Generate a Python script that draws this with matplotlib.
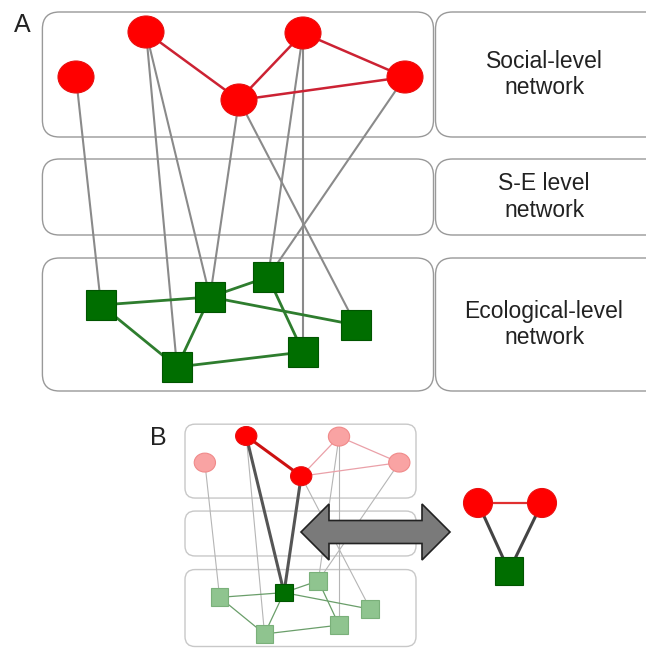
import matplotlib.pyplot as plt
from matplotlib.patches import Ellipse, Rectangle, FancyBboxPatch, Polygon

# Node positions (panel A pixel frame) and links
social_x = [76, 146, 239, 303, 405]
social_y = [77, 32, 100, 33, 77]
eco_x = [101, 210, 268, 356, 303, 177]
eco_y = [305, 297, 277, 325, 352, 367]
social_links = [(1, 2), (2, 3), (2, 4), (3, 4)]
eco_links = [(0, 1), (0, 5), (5, 1), (1, 2), (1, 3), (2, 4), (5, 4)]
cross_links = [(0, 0), (1, 5), (1, 1), (2, 1), (2, 3), (3, 2), (3, 4), (4, 2)]

# Motif highlighted in panel B
motif_social = [1, 2]
motif_eco = [1]

level_labels = ['Social-level\nnetwork', 'S-E level\nnetwork', 'Ecological-level\nnetwork']
level_top = [12, 159, 258]
level_bottom = [137, 235, 391]

# Isolated motif on the right of panel B
motif_x = [478, 542]
motif_y = [503, 503]
motif_sq = (509, 571)

colors = {'red': '#ff0000', 'red_edge': '#cc2233', 'green': '#006e00',
          'green_edge': '#2e7d2e', 'grey': '#8a8a8a', 'box': '#999999'}

fig = plt.figure(figsize=(6.46, 6.48), dpi=100)
ax = fig.add_axes([0, 0, 1, 1])
ax.set_xlim(0, 646)
ax.set_ylim(648, 0)
ax.set_aspect('equal')
ax.axis('off')


def box(x0, y0, x1, y1, r, ec, lw):
    ax.add_patch(FancyBboxPatch((x0, y0), x1 - x0, y1 - y0,
                                boxstyle='round,pad=0,rounding_size=%g' % r,
                                fc='white', ec=ec, lw=lw, zorder=1))


def red_node(x, y, w, h, fc, ec):
    ax.add_patch(Ellipse((x, y), w, h, fc=fc, ec=ec, lw=0.8, zorder=4))


def green_node(x, y, s, fc, ec):
    ax.add_patch(Rectangle((x - s / 2, y - s / 2), s, s, fc=fc, ec=ec, lw=0.8, zorder=4))


def draw_network(ox, oy, s, faded):
    # map panel A coordinates into the target frame
    def tx(x):
        return ox + (x - 42.4) * s

    def ty(y):
        return oy + (y - 11.7) * s

    sx = [tx(v) for v in social_x]
    sy = [ty(v) for v in social_y]
    ex = [tx(v) for v in eco_x]
    ey = [ty(v) for v in eco_y]

    for i, j in cross_links:
        hl = faded and i in motif_social and j in motif_eco
        if not faded:
            c, lw = colors['grey'], 1.5
        elif hl:
            c, lw = '#555555', 2.2
        else:
            c, lw = '#b5b5b5', 0.8
        ax.plot([sx[i], ex[j]], [sy[i], ey[j]], color=c, lw=lw, zorder=2,
                solid_capstyle='round')
    for i, j in social_links:
        hl = faded and i in motif_social and j in motif_social
        if not faded:
            c, lw = colors['red_edge'], 1.8
        elif hl:
            c, lw = '#cc1111', 2.2
        else:
            c, lw = '#eaa0a8', 0.9
        ax.plot([sx[i], sx[j]], [sy[i], sy[j]], color=c, lw=lw, zorder=3)
    for i, j in eco_links:
        if not faded:
            c, lw = colors['green_edge'], 2.0
        else:
            c, lw = '#6a9e6a', 0.9
        ax.plot([ex[i], ex[j]], [ey[i], ey[j]], color=c, lw=lw, zorder=3)

    for k in range(len(sx)):
        if faded and k not in motif_social:
            red_node(sx[k], sy[k], 36 * s, 32 * s, '#f9a3a3', '#f08a8a')
        else:
            red_node(sx[k], sy[k], 36 * s, 32 * s, colors['red'], '#e81010')
    for k in range(len(ex)):
        if faded and k not in motif_eco:
            green_node(ex[k], ey[k], 30 * s, '#8fc48f', '#7ab07a')
        else:
            green_node(ex[k], ey[k], 30 * s, colors['green'], '#005500')


# Panel A
for top, bot, lab in zip(level_top, level_bottom, level_labels):
    box(42.4, top, 433.5, bot, 17, colors['box'], 1.0)
    box(435.5, top, 680, bot, 17, colors['box'], 1.0)
    ax.text(544, (top + bot) / 2, lab, ha='center', va='center',
            fontsize=16.5, family='Liberation Sans', color='#222222', linespacing=1.2)
draw_network(42.4, 11.7, 1.0, False)
ax.text(22, 25, 'A', ha='center', va='center', fontsize=18, family='Liberation Sans', color='#222222')

# Panel B (scaled copy)
sB = 0.591
for top, bot in zip(level_top, level_bottom):
    box(185, 424 + (top - 11.7) * sB, 416, min(424 + (bot - 11.7) * sB, 646.5), 10, '#c8c8c8', 1.0)
draw_network(185, 424, sB, True)
ax.text(158, 438, 'B', ha='center', va='center', fontsize=18, family='Liberation Sans', color='#222222')

# double-headed arrow
cy, x0, x1, hl, hh, sh = 532, 301, 450, 28, 28, 11.5
arrow = [(x0, cy), (x0 + hl, cy - hh), (x0 + hl, cy - sh), (x1 - hl, cy - sh), (x1 - hl, cy - hh),
         (x1, cy), (x1 - hl, cy + hh), (x1 - hl, cy + sh), (x0 + hl, cy + sh), (x0 + hl, cy + hh)]
ax.add_patch(Polygon(arrow, closed=True, fc='#7a7a7a', ec='#222222', lw=1.2, zorder=6))

# isolated motif
ax.plot(motif_x, motif_y, color='#e03030', lw=1.6, zorder=3)
for mx, my in zip(motif_x, motif_y):
    ax.plot([mx, motif_sq[0]], [my, motif_sq[1]], color='#444444', lw=2.2, zorder=2)
    red_node(mx, my, 29, 29, colors['red'], '#e81010')
green_node(motif_sq[0], motif_sq[1], 28, colors['green'], '#005500')

fig.savefig('out.png', dpi=100)
